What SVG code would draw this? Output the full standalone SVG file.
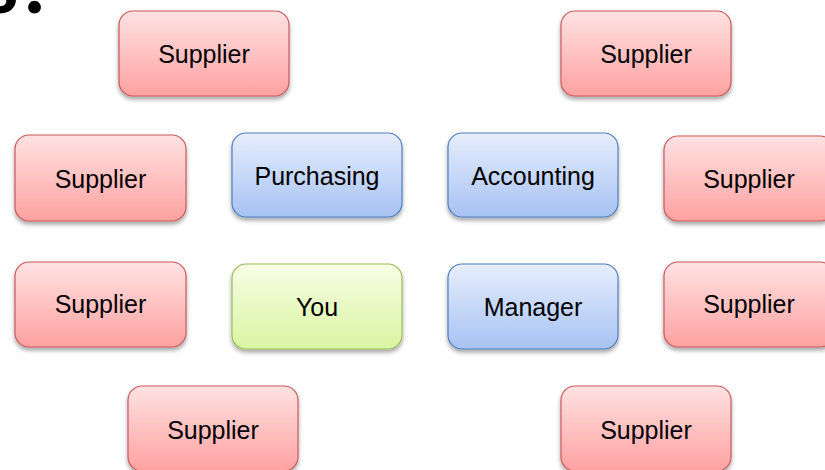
<svg xmlns="http://www.w3.org/2000/svg" width="825" height="470" viewBox="0 0 825 470">
<defs>
<linearGradient id="gRed" x1="0" y1="0" x2="0" y2="1">
<stop offset="0" stop-color="#FFE2E2"/><stop offset="1" stop-color="#FFA1A1"/>
</linearGradient>
<linearGradient id="gBlue" x1="0" y1="0" x2="0" y2="1">
<stop offset="0" stop-color="#E7EEFD"/><stop offset="1" stop-color="#A7C2F3"/>
</linearGradient>
<linearGradient id="gGreen" x1="0" y1="0" x2="0" y2="1">
<stop offset="0" stop-color="#F7FDE5"/><stop offset="1" stop-color="#D9F5A2"/>
</linearGradient>
<filter id="sh" x="-10%" y="-10%" width="120%" height="130%">
<feDropShadow dx="0" dy="3" stdDeviation="2" flood-color="#000" flood-opacity="0.35"/>
</filter>
</defs>
<style>
.box{filter:url(#sh);stroke-width:1.2}
.red{fill:url(#gRed);stroke:#C9595A}
.blue{fill:url(#gBlue);stroke:#4F7FBE}
.green{fill:url(#gGreen);stroke:#9BBB59}
.lbl{font-family:"Liberation Sans",Arial,sans-serif;font-size:25px;fill:#000;text-anchor:middle}
.title{font-family:Lato,"Liberation Sans",sans-serif;font-size:84px;font-weight:bold;fill:#000}
</style>
<rect width="825" height="470" fill="#fff"/>
<text class="title" x="56" y="13" text-anchor="end">s?</text>
<g id="connectors"/>
<g id="supplier-top-left"><rect class="box red" x="119" y="11" width="170" height="85" rx="14"/><text class="lbl" x="204" y="63">Supplier</text></g>
<g id="supplier-top-right"><rect class="box red" x="561" y="11" width="170" height="85" rx="14"/><text class="lbl" x="646" y="63">Supplier</text></g>
<g id="supplier-mid-left-1"><rect class="box red" x="15" y="135" width="171" height="86" rx="14"/><text class="lbl" x="100.5" y="188">Supplier</text></g>
<g id="purchasing"><rect class="box blue" x="232" y="133" width="170" height="84" rx="14"/><text class="lbl" x="317" y="185">Purchasing</text></g>
<g id="accounting"><rect class="box blue" x="448" y="133" width="170" height="84" rx="14"/><text class="lbl" x="533" y="185">Accounting</text></g>
<g id="supplier-mid-right-1"><rect class="box red" x="664" y="136" width="170" height="85" rx="14"/><text class="lbl" x="749" y="188">Supplier</text></g>
<g id="supplier-mid-left-2"><rect class="box red" x="15" y="262" width="171" height="85" rx="14"/><text class="lbl" x="100.5" y="313">Supplier</text></g>
<g id="you"><rect class="box green" x="232" y="264" width="170" height="85" rx="14"/><text class="lbl" x="317" y="316">You</text></g>
<g id="manager"><rect class="box blue" x="448" y="264" width="170" height="85" rx="14"/><text class="lbl" x="533" y="316">Manager</text></g>
<g id="supplier-mid-right-2"><rect class="box red" x="664" y="262" width="170" height="85" rx="14"/><text class="lbl" x="749" y="313">Supplier</text></g>
<g id="supplier-bottom-left"><rect class="box red" x="128" y="386" width="170" height="85" rx="14"/><text class="lbl" x="213" y="439">Supplier</text></g>
<g id="supplier-bottom-right"><rect class="box red" x="561" y="386" width="170" height="85" rx="14"/><text class="lbl" x="646" y="439">Supplier</text></g>
</svg>
